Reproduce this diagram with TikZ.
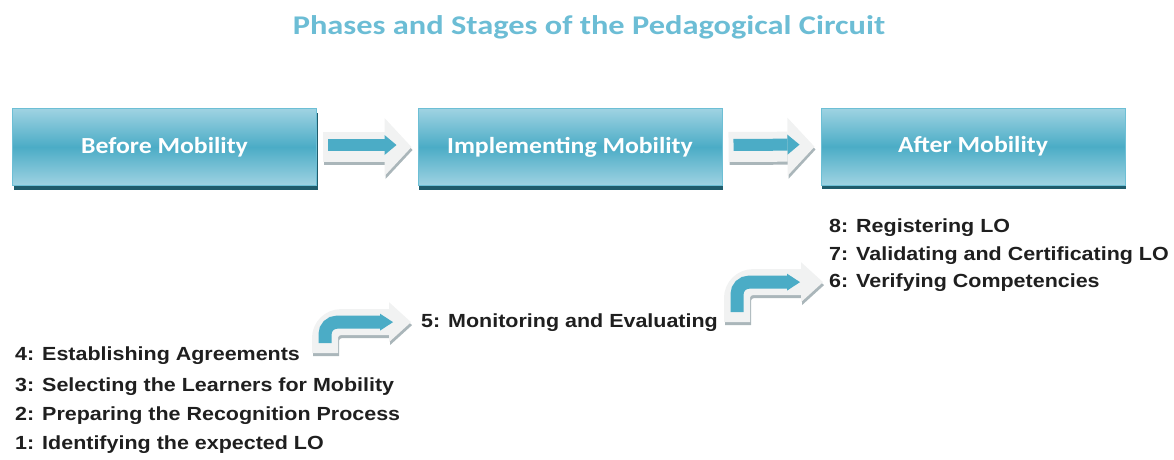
\documentclass[tikz,border=0pt]{standalone}
\usepackage{fontspec}
\setmainfont{Liberation Sans}[FakeStretch=1.13]
\newfontfamily\calibfont{Carlito}[FakeStretch=1.12]
\newfontfamily\titlefont{Carlito}[FakeStretch=1.2]
\usetikzlibrary{arrows.meta,shadows,calc}
\definecolor{phaseblue}{HTML}{4BACC6}
\definecolor{phaselight}{HTML}{9FD3E2}
\definecolor{phaseedge}{HTML}{6DBFD5}
\definecolor{phaseshadow}{HTML}{1F5C6C}
\definecolor{titleblue}{HTML}{6CBDD5}
\definecolor{arrowgrey}{HTML}{F1F2F2}
\definecolor{arrowshade}{HTML}{AAB6BA}

\begin{document}
\begin{tikzpicture}[x=1pt,y=-1pt,
    phase/.style={draw=phaseedge, line width=1pt, top color=phaselight, bottom color=phaselight, middle color=phaseblue,
      minimum width=304pt, minimum height=77pt, inner sep=0pt, text=white,
      font=\calibfont\bfseries\fontsize{23}{23}\selectfont,
      drop shadow={shadow xshift=1pt, shadow yshift=-4pt, fill=phaseshadow, opacity=1}},
    stage/.style={anchor=base west, inner sep=0pt, text=black!88, font=\bfseries\fontsize{19}{19}\selectfont},
    blockarrow/.style={line width=30pt, -{Triangle[length=27pt,width=58pt,line width=0pt]}},
    blueline/.style={phaseblue, line width=12pt, -{Triangle[length=12pt,width=20pt,line width=0pt]}},
    bentarrow/.style={line width=26pt, rounded corners=16pt, -{Triangle[length=22pt,width=40pt,line width=0pt]}},
    bentblue/.style={phaseblue, line width=13pt, rounded corners=12pt, -{Triangle[length=13pt,width=17pt,line width=0pt]}}]
  \useasboundingbox (0,0) rectangle (1174,459);

  % title
  \node[anchor=base, text=titleblue, font=\titlefont\bfseries\fontsize{27}{27}\selectfont] (title) at (589,34)
    {Phases and Stages of the Pedagogical Circuit};

  % phases
  \node[phase] (before) at (164.5,147) {Before Mobility};
  \node[phase] (during) at (570,147) {Implementing Mobility};
  \node[phase] (after) at (973,146.5) {After Mobility};

  % stages
  \node[stage] (s1) at (15,449) {1: Identifying the expected LO};
  \node[stage] (s2) at (15,420) {2: Preparing the Recognition Process};
  \node[stage] (s3) at (15,391) {3: Selecting the Learners for Mobility};
  \node[stage] (s4) at (15,360) {4: Establishing Agreements};
  \node[stage] (s5) at (421,327) {5: Monitoring and Evaluating};
  \node[stage] (s6) at (829,287) {6: Verifying Competencies};
  \node[stage] (s7) at (829,260) {7: Validating and Certificating LO};
  \node[stage] (s8) at (829,232) {8: Registering LO};

  % arrows between phases
  \foreach \from/\to in {before/during, during/after} {
    \draw[blockarrow, arrowshade, shorten <=7pt, shorten >=5pt] ($(\from.east)+(0,3)$) -- ($(\to.west)+(0,3)$);
    \draw[blockarrow, arrowgrey, shorten <=6pt, shorten >=6pt] (\from) -- (\to);
    \draw[blueline, shorten <=11pt, shorten >=21pt] ($(\from.east)+(0,-2)$) -- ($(\to.west)+(0,-2)$);
  }

  % bent arrows between stages
  \coordinate (bend1) at (325,353);
  \coordinate (bend2) at (737,322);
  \draw[bentarrow, arrowshade] ($(bend1)+(1,3)$) |- ($(s5.west)+(-9,3)$);
  \draw[bentarrow, arrowgrey, shorten >=10pt] (bend1) |- (s5.west);
  \draw[bentblue, shorten <=10pt, shorten >=28pt] (bend1) |- (s5.west);
  \draw[bentarrow, arrowshade] ($(bend2)+(1,3)$) |- ($(s6.west)+(-5,3)$);
  \draw[bentarrow, arrowgrey, shorten >=6pt] (bend2) |- (s6.west);
  \draw[bentblue, shorten <=10pt, shorten >=29pt] (bend2) |- (s6.west);
\end{tikzpicture}
\end{document}
